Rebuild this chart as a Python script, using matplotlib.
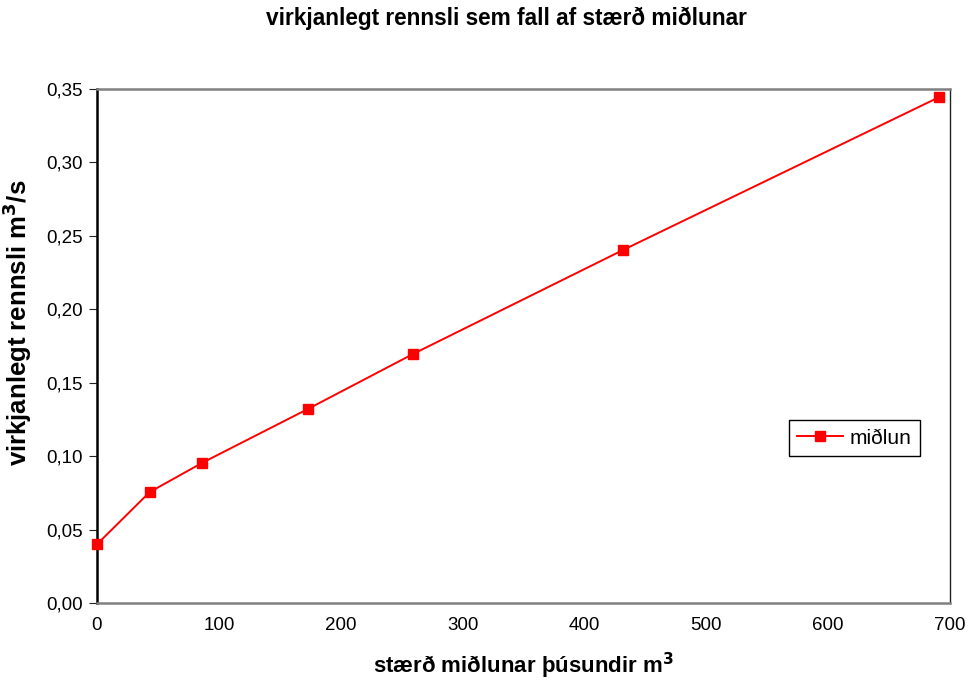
import matplotlib.pyplot as plt
from matplotlib.ticker import FuncFormatter, MultipleLocator

plt.rcParams["font.family"] = ["Liberation Sans", "DejaVu Sans"]

# stærð miðlunar (þúsundir m3) og virkjanlegt rennsli (m3/s)
storage = [0, 43.2, 86.4, 172.8, 259.2, 432.0, 691.2]
flow = [0.040, 0.0755, 0.0955, 0.132, 0.1695, 0.2405, 0.3445]

fig = plt.figure(figsize=(9.68, 6.84), dpi=100)
ax = fig.add_axes([0.1002, 0.1184, 0.8812, 0.7515])

ax.plot(storage, flow, color="red", lw=1.4, marker="s", ms=7.5,
        mec="red", mfc="red", label="miðlun", clip_on=False, zorder=3)

ax.set_xlim(0, 700)
ax.set_ylim(0, 0.35)
ax.xaxis.set_major_locator(MultipleLocator(100))
ax.yaxis.set_major_locator(MultipleLocator(0.05))
ax.yaxis.set_major_formatter(FuncFormatter(lambda v, p: f"{v:.2f}".replace(".", ",")))
ax.tick_params(axis="both", labelsize=13.5, direction="out", length=6, color="#222222")
ax.tick_params(axis="y", pad=4)
ax.tick_params(axis="x", pad=10, length=0)

ax.spines["left"].set_color("black")
ax.spines["left"].set_linewidth(1.8)
ax.spines["bottom"].set_color("#808080")
ax.spines["bottom"].set_linewidth(1.8)
ax.spines["top"].set_color("#808080")
ax.spines["top"].set_linewidth(1.8)
ax.spines["right"].set_color("#222222")
ax.spines["right"].set_linewidth(1.0)

fig.text(0.523, 0.973, "virkjanlegt rennsli sem fall af stærð miðlunar",
         fontsize=16.3, fontweight="bold", ha="center", va="center")
ax.set_xlabel("stærð miðlunar þúsundir m$^\\mathbf{3}$", fontsize=16,
              fontweight="bold", labelpad=12)
ax.set_ylabel("virkjanlegt rennsli m$^\\mathbf{3}$/s", fontsize=18.5,
              fontweight="bold")
ax.yaxis.set_label_coords(-0.074, 0.545)

leg = ax.legend(loc="center", bbox_to_anchor=(0.888, 0.321), fontsize=15,
                fancybox=False, edgecolor="black", framealpha=1,
                handlelength=2.2, handletextpad=0.3, borderpad=0.4)
leg.get_frame().set_linewidth(1.0)

fig.savefig("out.png", dpi=100)
